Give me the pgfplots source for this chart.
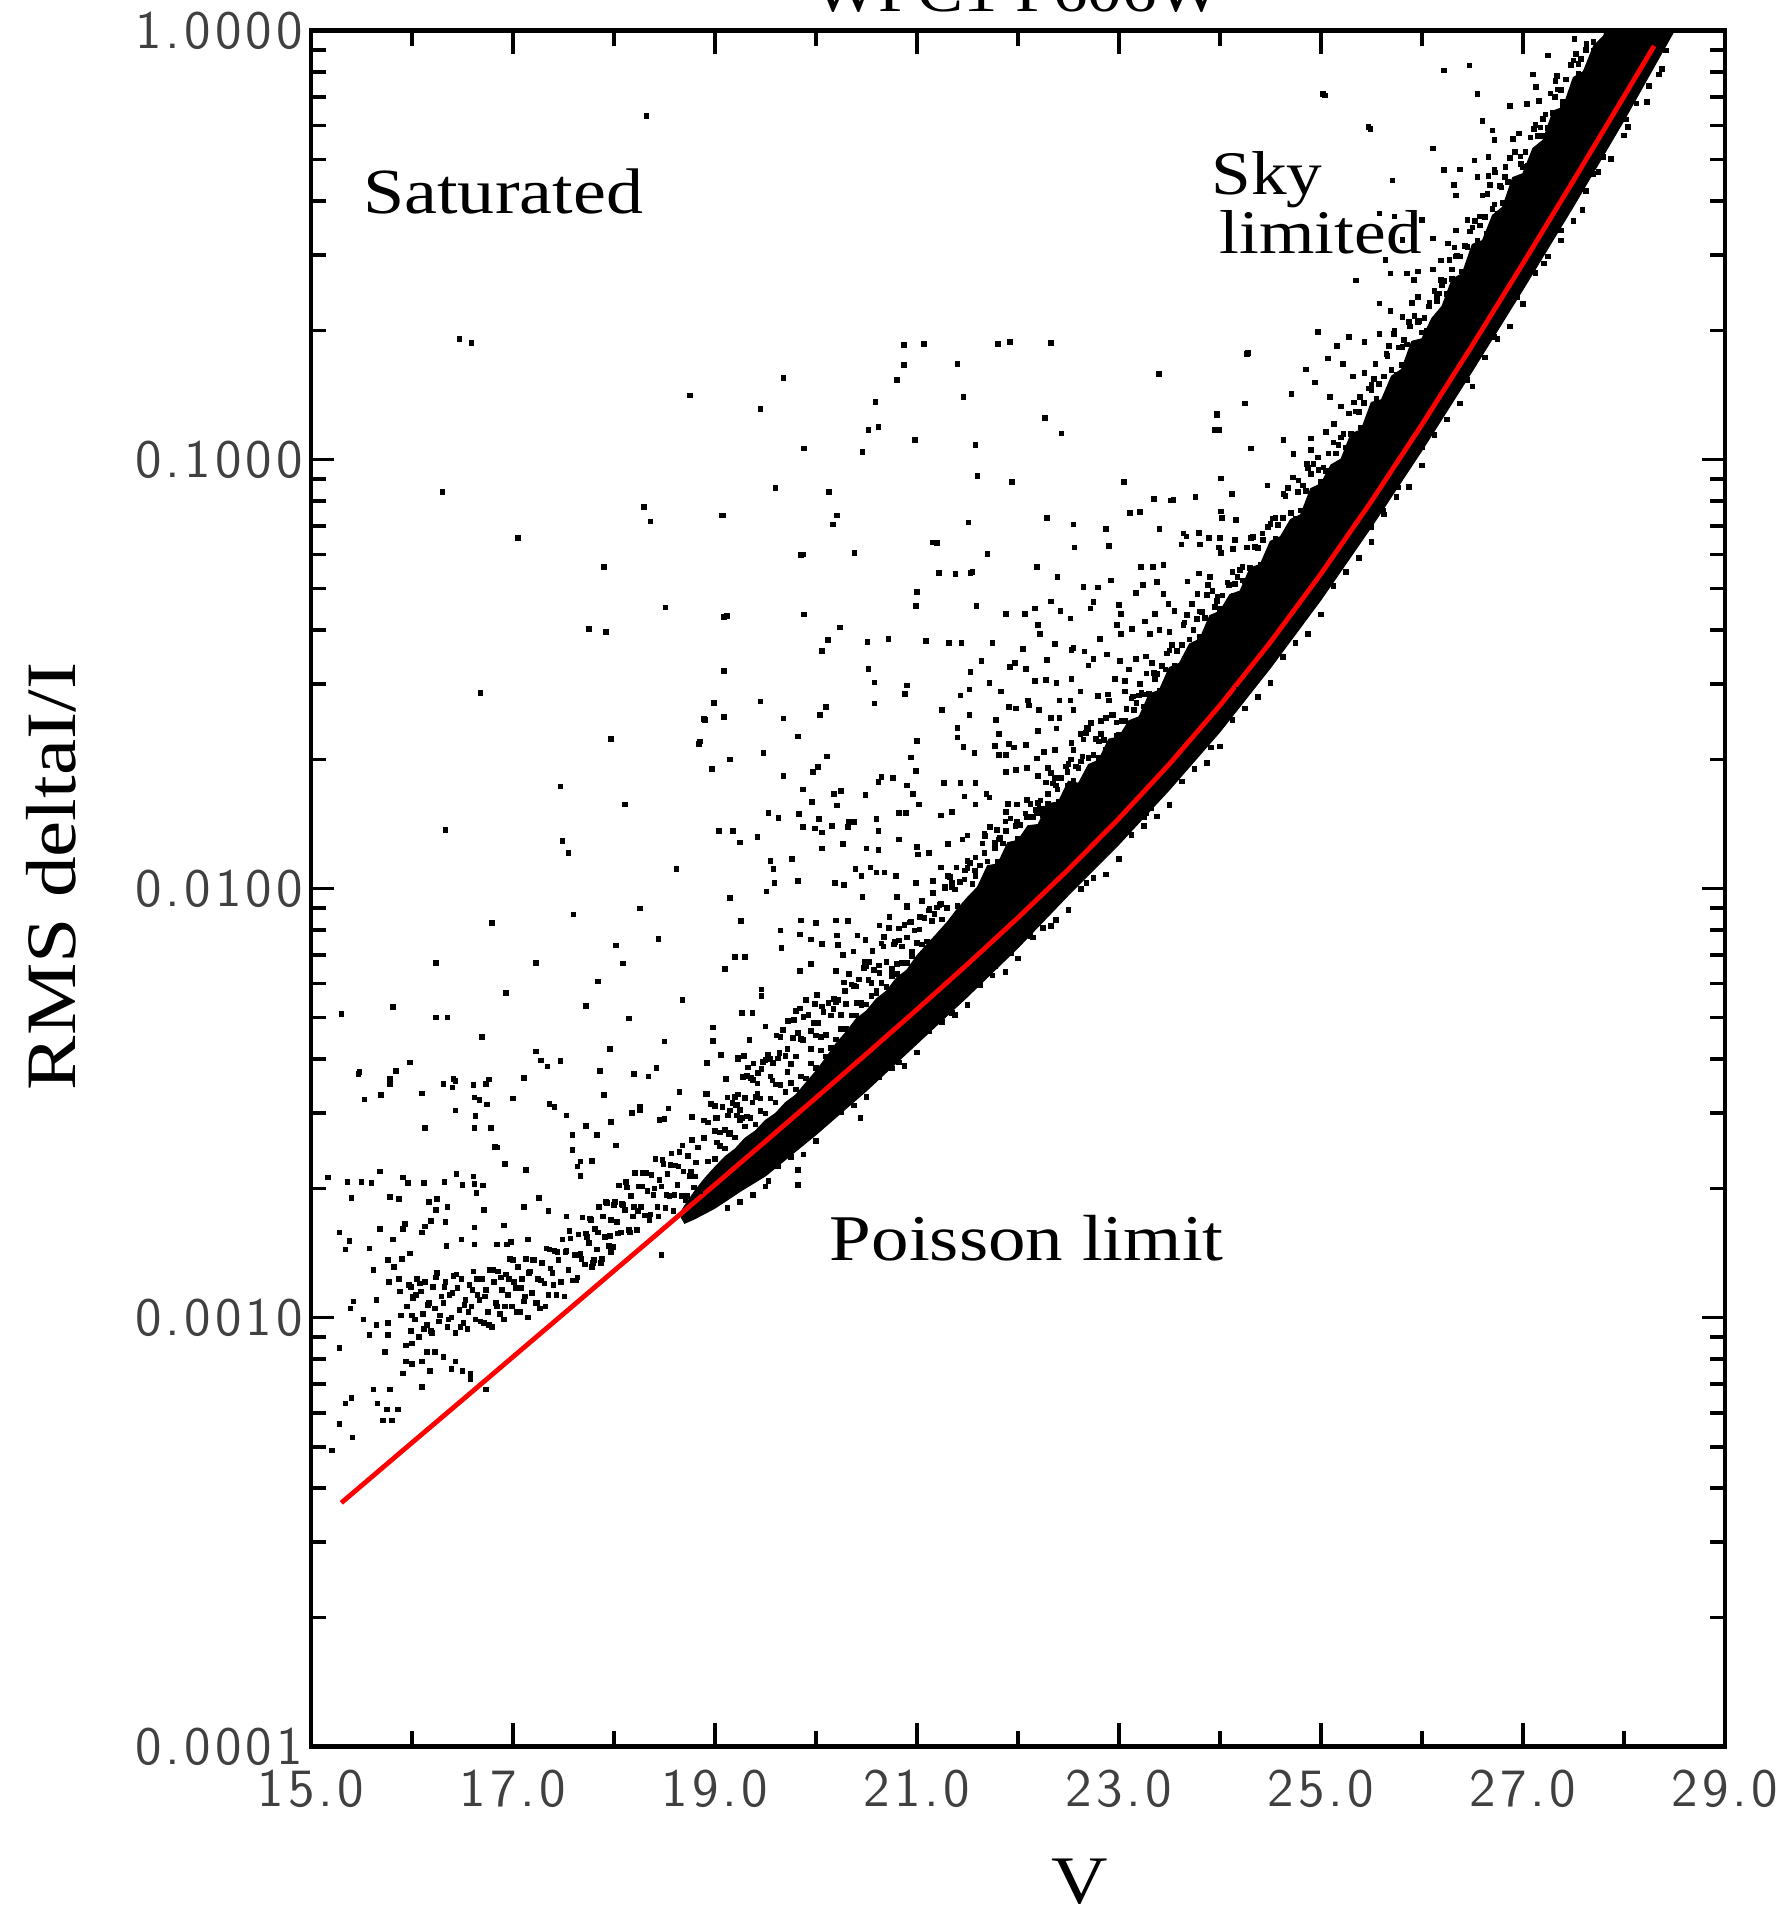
\documentclass[border=0pt]{standalone}
\usepackage{fontspec}
\setmainfont{Liberation Serif}[FakeStretch=1.15]
\usepackage{pgfplots}
\pgfplotsset{compat=1.18}
\newcommand\ks{\kern1pt}
\begin{document}
\begin{tikzpicture}
\begin{axis}[
  name=ax, at={(0,0)}, anchor=south west,
  scale only axis, width=353.4pt, height=429pt,
  xmin=15, xmax=29, ymode=log, ymin=1e-4, ymax=1,
  xtick={15,17,19,21,23,25,27,29},
  xticklabels={1\ks5\ks.\ks0,1\ks7\ks.\ks0,1\ks9\ks.\ks0,2\ks1\ks.\ks0,2\ks3\ks.\ks0,2\ks5\ks.\ks0,2\ks7\ks.\ks0,2\ks9\ks.\ks0},
  minor xtick={16,18,20,22,24,26,28},
  ytick={1e-4,1e-3,1e-2,1e-1,1},
  yticklabels={0\ks.\ks0\ks0\ks0\ks1,0\ks.\ks0\ks0\ks1\ks0,0\ks.\ks0\ks1\ks0\ks0,0\ks.\ks1\ks0\ks0\ks0,1\ks.\ks0\ks0\ks0\ks0},
  minor ytick={2e-4,3e-4,4e-4,5e-4,6e-4,7e-4,8e-4,9e-4,2e-3,3e-3,4e-3,5e-3,6e-3,7e-3,8e-3,9e-3,2e-2,3e-2,4e-2,5e-2,6e-2,7e-2,8e-2,9e-2,0.2,0.3,0.4,0.5,0.6,0.7,0.8,0.9},
  tick align=inside,
  major tick length=5.8pt, minor tick length=3.8pt,
  axis line style={line width=1.1pt},
  every tick/.style={black, line width=0.9pt},
  tick label style={font=\sffamily\fontsize{13.5}{14}\selectfont, text=black!75},
  xticklabel style={yshift=-2.2pt},
  yticklabel style={xshift=1.4pt},
  xlabel={V}, ylabel={RMS deltaI/I},
  xlabel style={font=\fontsize{17}{17}\selectfont, inner sep=0pt, at={(axis description cs:0.5436,-0.0785)}, anchor=center},
  ylabel style={font=\fontsize{17.7}{17.7}\selectfont, at={(axis description cs:-0.184,0.507)}, anchor=center},
]
% dense main band
\addplot[fill=black, draw=black, line width=0.3pt] coordinates {
(18.7,1.82e-3)(18.8,1.97e-3)(18.9,2.11e-3)(19.0,2.24e-3)(19.1,2.37e-3)(19.2,2.47e-3)(19.3,2.62e-3)(19.4,2.72e-3)(19.5,2.88e-3)(19.6,2.99e-3)(19.7,3.17e-3)(19.8,3.30e-3)(19.9,3.52e-3)
(20.0,3.75e-3)(20.1,4.03e-3)(20.2,4.35e-3)(20.3,4.63e-3)(20.4,4.97e-3)(20.5,5.18e-3)(20.6,5.53e-3)(20.7,5.77e-3)(20.8,6.19e-3)(20.9,6.45e-3)
(21.0,6.97e-3)(21.1,7.40e-3)(21.2,7.85e-3)(21.3,8.34e-3)(21.4,8.95e-3)(21.5,9.52e-3)(21.6,1.007e-2)(21.7,1.130e-2)(21.8,1.140e-2)(21.9,1.279e-2)
(22.0,1.294e-2)(22.1,1.400e-2)(22.2,1.409e-2)(22.3,1.578e-2)(22.4,1.589e-2)(22.5,1.778e-2)(22.6,1.758e-2)(22.7,1.945e-2)(22.8,1.991e-2)(22.9,2.228e-2)
(23.0,2.254e-2)(23.1,2.460e-2)(23.2,2.512e-2)(23.3,2.838e-2)(23.4,2.897e-2)(23.5,3.273e-2)(23.6,3.350e-2)(23.7,3.715e-2)(23.8,3.811e-2)(23.9,4.325e-2)
(24.0,4.426e-2)(24.1,4.842e-2)(24.2,4.932e-2)(24.3,5.585e-2)(24.4,5.689e-2)(24.5,6.442e-2)(24.6,6.607e-2)(24.7,7.244e-2)(24.8,7.430e-2)(24.9,8.551e-2)
(25.0,8.770e-2)(25.1,9.705e-2)(25.2,0.1002)(25.3,0.1148)(25.4,0.1172)(25.5,0.1358)(25.6,0.1377)(25.7,0.1563)(25.8,0.1622)(25.9,0.1884)
(26.0,0.1910)(26.1,0.2133)(26.2,0.2275)(26.3,0.2630)(26.4,0.2710)(26.5,0.3170)(26.6,0.3236)(26.7,0.3707)(26.8,0.3873)(26.9,0.4539)
(27.0,0.4634)(27.1,0.5309)(27.2,0.5546)(27.3,0.6486)(27.4,0.6622)(27.5,0.7762)(27.6,0.8017)(27.7,0.9183)(27.8,0.9705)(27.85,1.05)
(28.6,1.05)(28.5,1.0)(28.0,0.617)(27.5,0.389)(27.0,0.249)(26.5,0.161)(26.0,0.105)(25.5,0.0697)(25.0,0.0471)(24.5,0.0327)(24.0,0.0232)(23.5,0.0170)(23.0,0.01268)(22.5,0.00966)(22.0,7.28e-3)(21.5,5.60e-3)(21.0,4.35e-3)(20.5,3.38e-3)(20.0,2.67e-3)(19.5,2.14e-3)(19.25,1.97e-3)(19.0,1.80e-3)(18.8,1.70e-3)(18.7,1.66e-3)(18.65,1.74e-3)(18.7,1.82e-3)
};
% bright cluster core
\addplot[only marks, mark=square*, mark size=0.5pt, black] coordinates {
(15.95,1.06e-3)(15.97,1.19e-3)(15.99,0.93e-3)(16.01,1.11e-3)(16.03,0.99e-3)(16.05,1.23e-3)(16.07,0.90e-3)(16.09,1.15e-3)(16.11,1.02e-3)(16.13,1.21e-3)(16.15,0.96e-3)(16.17,1.08e-3)(16.19,0.93e-3)(16.21,1.18e-3)(16.23,1.05e-3)(16.25,1.27e-3)(16.27,0.98e-3)(16.29,1.12e-3)
(16.31,1.08e-3)(16.33,1.21e-3)(16.35,0.95e-3)(16.37,1.13e-3)(16.39,1.00e-3)(16.41,1.25e-3)(16.43,0.92e-3)(16.45,1.17e-3)(16.47,1.04e-3)(16.49,1.23e-3)(16.51,0.97e-3)(16.53,1.10e-3)(16.55,0.94e-3)(16.57,1.19e-3)(16.59,1.06e-3)(16.61,1.28e-3)(16.63,0.99e-3)(16.65,1.13e-3)
(16.67,1.10e-3)(16.69,1.23e-3)(16.71,0.97e-3)(16.73,1.16e-3)(16.75,1.03e-3)(16.77,1.29e-3)(16.79,0.95e-3)(16.81,1.21e-3)(16.83,1.08e-3)(16.85,1.28e-3)(16.87,1.02e-3)(16.89,1.16e-3)(16.91,0.99e-3)(16.93,1.26e-3)(16.95,1.13e-3)(16.97,1.37e-3)
(16.99,1.06e-3)(17.01,1.21e-3)(17.03,1.17e-3)(17.05,1.31e-3)(17.07,1.03e-3)(17.09,1.23e-3)(17.11,1.09e-3)(17.13,1.37e-3)(17.15,1.00e-3)(17.17,1.28e-3)(17.19,1.14e-3)(17.21,1.36e-3)(17.23,1.08e-3)(17.25,1.23e-3)(17.27,1.05e-3)(17.29,1.34e-3)
(17.31,1.20e-3)(17.33,1.45e-3)(17.35,1.13e-3)(17.37,1.30e-3)(17.39,1.27e-3)(17.41,1.43e-3)(17.43,1.13e-3)(17.45,1.36e-3)(17.47,1.21e-3)(17.49,1.52e-3)(17.51,1.12e-3)(17.53,1.43e-3)(17.55,1.29e-3)(17.57,1.53e-3)(17.59,1.22e-3)(17.61,1.40e-3)(17.63,1.22e-3)
(17.65,1.56e-3)(17.67,1.41e-3)(17.69,1.71e-3)(17.71,1.33e-3)(17.73,1.54e-3)(17.75,1.49e-3)(17.77,1.69e-3)(17.79,1.34e-3)(17.81,1.61e-3)(17.83,1.44e-3)(17.85,1.81e-3)(17.87,1.34e-3)(17.89,1.72e-3)(17.91,1.54e-3)(17.93,1.85e-3)(17.95,1.47e-3)
(17.97,1.69e-3)(17.99,1.46e-3)(18.01,1.86e-3)(18.03,1.67e-3)(18.05,2.03e-3)(18.07,1.58e-3)(18.09,1.83e-3)(18.11,1.78e-3)(18.13,2.01e-3)(18.15,1.60e-3)(18.17,1.92e-3)(18.19,1.72e-3)(18.21,2.17e-3)(18.23,1.60e-3)(18.25,2.02e-3)(18.27,1.81e-3)(18.29,2.17e-3)
(18.31,1.73e-3)(18.33,1.97e-3)(18.35,1.69e-3)(18.37,2.15e-3)(18.39,1.93e-3)(18.41,2.34e-3)(18.43,1.81e-3)(18.45,2.09e-3)(18.47,2.02e-3)(18.49,2.28e-3)(18.51,1.80e-3)(18.53,2.16e-3)(18.55,1.92e-3)(18.57,2.41e-3)(18.59,1.77e-3)(18.61,2.26e-3)(18.63,2.04e-3)(18.65,2.43e-3)(18.67,1.92e-3)(18.69,2.19e-3)(18.71,1.88e-3)(18.73,2.38e-3)(18.75,2.14e-3)(18.77,2.59e-3)(18.79,2.01e-3)(18.81,2.30e-3)(18.83,2.49e-3)(18.85,1.97e-3)
(16.00,1.01e-3)(16.04,1.13e-3)(16.08,1.20e-3)(16.12,0.94e-3)(16.16,1.07e-3)(16.20,0.92e-3)(16.24,1.24e-3)(16.28,1.01e-3)(16.32,1.18e-3)(16.36,0.99e-3)(16.40,1.14e-3)(16.44,1.26e-3)(16.48,0.95e-3)(16.52,1.07e-3)(16.56,1.03e-3)(16.60,1.16e-3)(16.64,1.23e-3)
(16.68,0.98e-3)(16.72,1.12e-3)(16.76,0.96e-3)(16.80,1.29e-3)(16.84,1.06e-3)(16.88,1.24e-3)(16.92,1.06e-3)(16.96,1.23e-3)(17.00,1.36e-3)(17.04,1.03e-3)(17.08,1.17e-3)(17.12,1.12e-3)(17.16,1.27e-3)(17.20,1.36e-3)(17.24,1.08e-3)(17.28,1.22e-3)
(17.32,1.06e-3)(17.36,1.44e-3)(17.40,1.19e-3)(17.44,1.42e-3)(17.48,1.21e-3)(17.52,1.42e-3)(17.56,1.59e-3)(17.60,1.22e-3)(17.64,1.40e-3)(17.68,1.37e-3)(17.72,1.57e-3)(17.76,1.70e-3)(17.80,1.36e-3)(17.84,1.58e-3)(17.88,1.37e-3)(17.92,1.86e-3)(17.96,1.55e-3)
(18.00,1.83e-3)(18.04,1.57e-3)(18.08,1.84e-3)(18.12,2.07e-3)(18.16,1.58e-3)(18.20,1.81e-3)(18.24,1.77e-3)(18.28,2.02e-3)(18.32,2.17e-3)(18.36,1.74e-3)(18.40,2.00e-3)(18.44,1.72e-3)(18.48,2.33e-3)(18.52,1.93e-3)(18.56,2.27e-3)(18.60,1.93e-3)(18.64,2.25e-3)(18.68,2.52e-3)(18.72,1.92e-3)(18.76,2.19e-3)(18.80,2.13e-3)
};
% bright loose points
\addplot[only marks, mark=square*, mark size=0.5pt, black] coordinates {
(15.48,3.73e-3)(15.84,3.76e-3)(15.98,3.93e-3)(15.53,3.22e-3)(15.78,3.50e-3)(16.10,3.33e-3)(16.31,3.50e-3)(16.40,3.44e-3)(16.43,3.56e-3)(16.61,3.48e-3)(16.62,3.26e-3)(16.67,3.21e-3)(16.74,3.14e-3)(16.76,3.59e-3)(16.43,3.04e-3)(16.63,2.95e-3)(16.62,2.77e-3)(16.78,2.77e-3)(16.13,2.77e-3)(16.84,2.49e-3)(16.92,2.28e-3)(17.0,3.24e-3)(17.28,3.97e-3)(17.34,3.85e-3)(17.36,3.15e-3)(17.53,2.96e-3)(17.59,2.66e-3)(17.59,2.46e-3)(17.64,2.25e-3)(17.67,2.31e-3)(17.67,2.14e-3)(17.78,2.32e-3)(17.83,2.66e-3)(17.86,3.76e-3)(17.90,3.30e-3)(17.97,2.86e-3)(18.02,2.52e-3)(18.18,3.0e-3)(18.26,3.04e-3)(18.34,3.65e-3)(18.42,3.82e-3)(18.65,3.36e-3)(18.54,3.07e-3)(18.45,2.89e-3)(18.5,2.9e-3)(18.77,2.93e-3)(18.89,2.88e-3)(18.92,3.92e-3)(18.92,3.32e-3)(19.11,3.60e-3)(19.23,4.0e-3)(19.29,4.07e-3)(19.36,3.62e-3)(19.42,3.51e-3)(19.37,3.17e-3)(19.21,3.12e-3)(18.96,3.15e-3)(19.01,2.92e-3)(19.13,2.96e-3)(19.22,2.96e-3)(19.32,2.94e-3)
(15.17,2.12e-3)(15.36,2.07e-3)(15.5,2.07e-3)(15.6,2.06e-3)(15.68,2.19e-3)(15.4,1.90e-3)(15.78,1.91e-3)(15.87,1.89e-3)(15.91,2.12e-3)(15.96,2.06e-3)(16.12,2.06e-3)(16.17,1.86e-3)(16.25,1.89e-3)(16.32,2.07e-3)(16.44,2.16e-3)(16.5,2.04e-3)(16.61,2.13e-3)(16.62,2.05e-3)(16.7,2.03e-3)(16.64,1.95e-3)(16.35,1.81e-3)(16.24,1.78e-3)(16.19,1.68e-3)(16.13,1.63e-3)(16.1,1.58e-3)(16.33,1.67e-3)(15.93,1.65e-3)(15.91,1.61e-3)(15.68,1.61e-3)(15.81,1.52e-3)(15.58,1.45e-3)(15.34,1.44e-3)(15.38,1.51e-3)(15.28,1.58e-3)(15.98,1.41e-3)(15.9,1.37e-3)(15.76,1.36e-3)(15.82,1.31e-3)(15.62,1.29e-3)(15.87,1.23e-3)(15.77,1.21e-3)(15.88,1.15e-3)(15.99,1.18e-3)(16.01,1.12e-3)(15.65,1.10e-3)(15.42,1.09e-3)(15.39,1.05e-3)(15.52,0.99e-3)(15.89,1.01e-3)(15.65,0.96e-3)(15.58,0.91e-3)(15.76,0.97e-3)(15.76,0.91e-3)(15.28,0.85e-3)(15.73,0.83e-3)(15.94,0.86e-3)(16.0,0.87e-3)(15.94,0.79e-3)(16.0,0.78e-3)(16.1,0.79e-3)(15.91,0.74e-3)(16.18,0.75e-3)(16.15,0.83e-3)(16.23,0.83e-3)(16.31,0.81e-3)(16.39,0.76e-3)(16.43,0.79e-3)(16.5,0.75e-3)(16.58,0.74e-3)(16.58,0.72e-3)(16.73,0.68e-3)(16.1,0.69e-3)(15.62,0.68e-3)(15.78,0.68e-3)(15.4,0.65e-3)(15.34,0.63e-3)(15.66,0.63e-3)(15.75,0.61e-3)(15.86,0.61e-3)(15.71,0.575e-3)(15.8,0.575e-3)(15.28,0.565e-3)(15.41,0.525e-3)(15.21,0.49e-3)
(16.34,1.47e-3)(16.49,1.52e-3)(16.62,1.48e-3)(16.71,1.78e-3)(16.62,1.62e-3)(16.91,1.64e-3)(16.84,1.48e-3)(16.94,1.48e-3)(16.98,1.5e-3)(17.11,1.81e-3)(17.26,1.9e-3)(17.13,2.21e-3)(17.35,1.77e-3)(17.15,1.52e-3)(17.53,1.72e-3)(17.64,1.24e-3)(17.78,1.31e-3)(17.97,1.42e-3)(18.47,1.40e-3)
};
% outliers above
\addplot[only marks, mark=square*, mark size=0.5pt, black] coordinates {
(18.32,0.632)(16.47,0.191)(16.59,0.187)(25.02,0.711)(25.47,0.596)(18.75,0.141)(19.68,0.155)(19.45,0.131)(19.88,0.106)(19.6,0.0859)(20.13,0.0841)(20.52,0.117)(20.59,0.136)(20.8,0.153)(20.87,0.166)(21.07,0.186)(20.87,0.185)(21.4,0.167)(21.46,0.140)(21.8,0.186)(21.92,0.188)(22.33,0.187)(22.27,0.125)(22.43,0.115)(23.39,0.158)(24.27,0.176)(23.97,0.127)(23.95,0.117)(20.46,0.104)(20.62,0.119)(20.98,0.111)(21.6,0.0916)(21.58,0.108)(16.3,0.0840)(18.3,0.0776)(18.36,0.0717)(17.05,0.0657)(19.08,0.0741)(19.85,0.0599)(20.17,0.0706)(21.16,0.0641)(21.22,0.0543)(21.53,0.0543)(21.94,0.0886)(22.55,0.0706)(23.05,0.0886)(23.21,0.0755)(23.54,0.0805)(23.67,0.0662)(23.79,0.0674)(17.9,0.0561)(17.75,0.0402)(17.92,0.0396)(18.51,0.0452)(19.12,0.0432)(17.97,0.0223)(18.9,0.0247)(18.84,0.0217)(16.68,0.0286)(18.11,0.0157)(17.47,0.0173)(17.49,0.0129)(17.55,0.0121)(16.33,0.0137)(17.6,0.0087)(16.79,0.0083)(18.62,0.0111)(16.24,0.0067)(16.24,0.0050)(16.35,0.0050)(15.81,0.0053)(15.3,0.0051)(15.47,0.0037)(15.78,0.0036)(15.69,0.0033)(16.41,0.0036)(16.73,0.0035)(16.82,0.0025)
(18.09,0.00668)(18.44,0.00762)(18.26,0.00898)(18.02,0.00737)(17.84,0.00607)(18.15,0.00498)(17.72,0.00532)(17.96,0.00423)(17.47,0.00396)(17.11,0.00362)(17.23,0.00417)(18.2,0.0037)(18.5,0.0044)(18.68,0.0055)(17.23,0.0067)(16.93,0.0057)(16.69,0.0045)(17.41,0.0031)(17.72,0.0028)(18.26,0.0031)
};
% scattered cloud V 19-24.7
\addplot[only marks, mark=square*, mark size=0.5pt, black] coordinates {
(19.07,0.0741)(20.21,0.0741)(21.51,0.0713)(22.29,0.0731)(23.11,0.0750)(24.01,0.0757)(24.02,0.0731)(24.16,0.0722)(22.87,0.0688)(23.40,0.0688)(23.64,0.0672)(23.79,0.0672)(23.89,0.0656)(24.0,0.0656)(24.15,0.0648)(24.31,0.0656)(24.42,0.0672)(24.55,0.0731)(24.71,0.0750)
(19.87,0.0600)(20.38,0.0605)(21.2,0.0638)(21.7,0.0603)(22.56,0.0624)(22.9,0.0628)(23.62,0.0633)(23.8,0.0633)(23.99,0.0624)(24.01,0.0606)(24.13,0.0619)(24.27,0.0624)
(21.38,0.0541)(21.55,0.0546)(22.19,0.0561)(22.39,0.0533)(22.65,0.0504)(22.79,0.0503)(22.92,0.0522)(23.22,0.0561)(23.34,0.0561)(23.44,0.0568)(23.24,0.0510)(23.38,0.0518)(23.68,0.0519)(23.79,0.0542)(23.88,0.0510)(24.09,0.0510)(24.23,0.0522)(24.40,0.0554)
(21.0,0.0491)(20.99,0.0455)(21.59,0.0455)(23.17,0.0488)(23.44,0.0486)(23.49,0.0461)(23.78,0.0486)(23.97,0.0468)(24.14,0.0481)(24.33,0.0529)
(19.09,0.0430)(19.88,0.0435)(20.24,0.0406)(21.88,0.0436)(22.07,0.0437)(22.17,0.0449)(22.33,0.0467)(22.42,0.0444)(22.52,0.0426)(22.75,0.0466)(22.72,0.0449)(23.0,0.0458)(23.02,0.0437)(23.26,0.0419)(23.36,0.0437)(23.55,0.0444)(23.8,0.0442)(23.95,0.0453)
(20.12,0.0380)(20.06,0.0358)(20.51,0.0375)(20.72,0.0381)(21.09,0.0377)(21.32,0.0373)(21.44,0.0374)(21.75,0.0373)(22.2,0.0411)(22.22,0.0392)(22.37,0.0372)(22.55,0.0364)(22.66,0.0357)(22.81,0.0381)(22.98,0.0411)(23.02,0.0392)(23.13,0.0403)(23.31,0.0392)(23.40,0.0401)(23.50,0.0396)(23.64,0.0411)(23.74,0.0401)
(19.09,0.0321)(20.52,0.0325)(20.58,0.0302)(20.9,0.0297)(20.88,0.0284)(21.53,0.0320)(21.64,0.0339)(21.97,0.0335)(21.92,0.0328)(22.05,0.0362)(22.08,0.0325)(22.29,0.0341)(22.53,0.0360)(22.70,0.0331)(22.75,0.0343)(22.88,0.0351)(23.01,0.0339)(23.17,0.0343)(23.27,0.0347)(23.1,0.0324)(22.96,0.0308)(23.06,0.0305)(23.21,0.0300)(23.36,0.0308)(23.46,0.0324)(23.57,0.0328)
(18.99,0.0271)(19.45,0.0273)(20.58,0.0270)(21.43,0.0282)(21.52,0.0291)(21.72,0.0301)(21.83,0.0288)(22.17,0.0305)(22.28,0.0306)(22.38,0.0301)(22.53,0.0308)(22.41,0.0274)(22.52,0.0274)(22.62,0.0288)(22.79,0.0281)(22.89,0.0283)(23.06,0.0288)(23.14,0.0280)(23.25,0.0283)(23.33,0.0278)(23.40,0.0274)
(18.89,0.0248)(19.09,0.0251)(19.68,0.0249)(20.10,0.0265)(20.04,0.0254)(21.25,0.0261)(21.52,0.0254)(21.78,0.0247)(21.91,0.0265)(21.98,0.0263)(22.1,0.0274)(22.11,0.0267)(22.21,0.0261)(22.33,0.0250)(22.41,0.0250)(22.55,0.0261)(22.68,0.0237)(22.82,0.0246)(22.94,0.0254)(23.06,0.0246)(23.17,0.0243)(23.27,0.0250)
(18.85,0.0220)(19.82,0.0226)(21.0,0.0221)(21.4,0.0237)(21.4,0.0225)(21.81,0.0229)(21.91,0.0217)(22.08,0.0216)(22.2,0.0233)(22.38,0.0236)(22.53,0.0218)(22.62,0.0229)(22.70,0.0235)(22.80,0.0220)(22.87,0.0210)(22.98,0.0227)(23.13,0.0232)
(18.97,0.0190)(19.15,0.0200)(19.48,0.0207)(20.11,0.0203)(20.94,0.0202)(20.99,0.0188)(21.46,0.0214)(21.57,0.0207)(21.77,0.0215)(21.81,0.0205)(21.88,0.0205)(21.96,0.0213)(22.19,0.0201)(22.26,0.0208)(22.37,0.0210)(22.55,0.0210)(22.64,0.0203)(22.75,0.0205)(22.87,0.0196)(22.99,0.0205)
(19.68,0.0183)(19.97,0.0187)(20.02,0.0192)(20.62,0.0177)(20.65,0.0182)(20.76,0.0181)(20.9,0.0174)(20.96,0.0166)(21.02,0.0157)(21.27,0.0176)(21.43,0.0176)(21.47,0.0164)(21.58,0.0176)(21.69,0.0166)(21.88,0.0187)(21.98,0.0189)(22.09,0.0191)(22.2,0.0183)(22.3,0.0191)(22.37,0.0181)(22.49,0.0187)(22.6,0.0191)(22.72,0.0183)
(19.87,0.0170)(19.96,0.0159)(20.18,0.0166)(20.25,0.0169)(20.21,0.0156)(20.49,0.0165)(19.53,0.0150)(19.63,0.0146)(19.83,0.0149)(20.03,0.0145)(20.16,0.0140)(20.33,0.0143)(20.6,0.0145)(20.82,0.0150)(20.89,0.0150)(21.24,0.0148)(21.35,0.0151)(21.58,0.0157)(21.72,0.0163)(21.88,0.0151)(21.99,0.0157)(22.09,0.0161)(22.22,0.0153)(22.3,0.0166)(22.39,0.0170)(22.49,0.0174)(22.6,0.0170)
(19.04,0.0136)(19.18,0.0136)(19.42,0.0132)(19.25,0.0128)(19.87,0.0139)(19.99,0.0138)(20.06,0.0135)(20.27,0.0127)(20.32,0.0139)(20.38,0.0143)(20.50,0.0124)(20.62,0.0136)(20.62,0.0123)(20.82,0.0130)(21.0,0.0125)(21.01,0.0120)(21.12,0.0121)(21.31,0.0127)(21.45,0.0130)(21.5,0.0133)(21.67,0.0134)(21.79,0.0137)(21.88,0.0136)(21.99,0.0143)(22.09,0.0147)(22.19,0.0150)(22.26,0.0153)
(19.55,0.0116)(19.58,0.0111)(19.76,0.0117)(19.82,0.0104)(20.06,0.0124)(20.19,0.0103)(20.28,0.0102)(20.39,0.0111)(20.45,0.0107)(20.54,0.0112)(20.6,0.0109)(20.68,0.0109)(20.79,0.0107)(20.99,0.0103)(21.16,0.0104)(21.24,0.0112)(21.31,0.0107)(21.39,0.0112)(21.5,0.0116)(21.58,0.0118)(21.67,0.0121)(21.77,0.0124)(21.81,0.0130)
(19.51,0.00984)(19.59,0.0103)(19.15,0.00951)(19.26,0.00841)(19.85,0.00843)(20.0,0.00832)(20.2,0.00843)(20.32,0.00841)(20.46,0.00954)(20.8,0.00954)(20.9,0.00909)(21.05,0.00935)(21.16,0.00976)(21.28,0.0100)(21.35,0.0103)(21.47,0.0105)(21.58,0.0107)
(19.65,0.00799)(19.66,0.00727)(19.84,0.00782)(19.95,0.00760)(20.06,0.00742)(20.21,0.00778)(20.22,0.00739)(20.41,0.00778)(20.49,0.00758)(20.63,0.00820)(20.73,0.00857)(20.82,0.00807)(20.94,0.00836)(21.03,0.00857)(21.12,0.00888)(21.24,0.00920)
(19.1,0.00650)(19.2,0.00693)(19.3,0.00693)(19.84,0.00642)(19.95,0.00666)(20.2,0.00642)(20.27,0.00699)(20.37,0.00713)(20.48,0.00674)(20.56,0.00716)(20.67,0.00733)(20.78,0.00751)(20.9,0.00769)
(19.46,0.00581)(19.46,0.00562)(20.01,0.00565)(19.99,0.00538)(19.8,0.00519)(19.84,0.00525)(20.06,0.00531)(20.18,0.00552)(20.29,0.00577)(20.4,0.00591)(20.52,0.00613)(20.63,0.00636)(20.75,0.00650)
(19.27,0.00512)(19.37,0.00512)(19.5,0.00477)(18.98,0.00474)(18.98,0.00441)(19.34,0.00443)(19.78,0.00494)(19.61,0.00454)(19.72,0.00423)(19.87,0.00443)(19.95,0.00465)
(19.06,0.00409)(19.23,0.00403)(19.38,0.00391)(19.55,0.00401)(19.64,0.00413)(19.46,0.00380)(19.57,0.00357)(19.72,0.00374)(19.11,0.00361)(19.32,0.00366)
(18.91,0.00332)(19.0,0.00311)(19.22,0.00314)(18.93,0.00285)(19.27,0.00292)(19.42,0.00332)(18.89,0.00262)(19.02,0.00256)(19.14,0.00268)(18.93,0.00231)
(20.44,0.00292)(19.82,0.00221)(19.82,0.00204)(19.53,0.00208)(20.82,0.00393)(21.12,0.00465)(21.35,0.00512)(21.77,0.00658)(21.93,0.00708)(22.15,0.00769)(22.33,0.00817)(22.52,0.0100)(22.68,0.0103)(23.27,0.0150)(23.25,0.0147)(23.32,0.0154)(23.91,0.0213)(24.0,0.0249)(24.19,0.0291)(24.38,0.0318)
};
% faint end scatter
\addplot[only marks, mark=square*, mark size=0.5pt, black] coordinates {
(26.22,0.806)(26.47,0.828)(26.55,0.711)(27.1,0.79)(27.25,0.874)(27.51,0.956)(27.63,0.93)(27.70,0.897)(27.78,0.93)(27.85,0.947)(27.13,0.737)(27.34,0.783)(27.55,0.836)(27.70,0.79)(27.74,0.751)(27.82,0.718)(26.87,0.667)(27.04,0.674)(27.16,0.684)(27.32,0.699)(27.40,0.681)(27.48,0.663)(27.59,0.699)(27.67,0.674)
(26.6,0.614)(26.70,0.585)(26.72,0.556)(26.96,0.575)(27.11,0.59)(27.2,0.567)(27.29,0.60)(27.36,0.585)(27.44,0.605)(26.11,0.53)(26.52,0.497)(26.66,0.507)(26.22,0.472)(26.38,0.474)(26.55,0.456)(26.66,0.458)(26.72,0.472)(26.83,0.481)(26.98,0.489)(27.1,0.497)(27.23,0.526)(27.32,0.545)
(26.32,0.436)(26.34,0.412)(26.6,0.412)(26.72,0.393)(26.79,0.430)(26.91,0.438)(27.02,0.447)(27.1,0.409)(27.17,0.423)(25.58,0.374)(25.73,0.368)(26.0,0.361)(26.11,0.327)(26.34,0.342)(26.45,0.362)(26.57,0.368)(26.64,0.336)(26.72,0.342)(26.26,0.319)(25.81,0.325)(25.64,0.292)(26.19,0.291)(26.34,0.297)(26.45,0.313)(26.53,0.307)
(25.35,0.261)(25.69,0.271)(25.85,0.271)(25.96,0.274)(25.92,0.262)(26.11,0.277)(26.19,0.262)(26.30,0.277)(25.58,0.231)(25.69,0.222)(25.81,0.215)(25.96,0.209)(26.07,0.227)(26.15,0.239)(25.96,0.239)
(24.97,0.198)(25.16,0.184)(25.28,0.193)(25.43,0.188)(25.58,0.196)(25.73,0.200)(25.88,0.204)(25.07,0.172)(25.22,0.167)(25.32,0.156)(25.43,0.159)(25.54,0.167)(25.66,0.174)(25.81,0.183)(24.85,0.162)(24.94,0.151)(25.39,0.140)(25.50,0.145)(25.58,0.150)(24.71,0.142)(25.09,0.140)(25.2,0.133)(25.28,0.128)
(24.25,0.135)(23.97,0.128)(23.99,0.117)(24.63,0.111)(24.90,0.112)(25.05,0.116)(25.13,0.121)(24.31,0.106)(24.73,0.103)(24.86,0.0977)(24.97,0.101)(24.01,0.0902)(24.12,0.0831)(23.51,0.0802)(23.76,0.0817)(23.35,0.081)(24.47,0.087)(24.63,0.0831)(24.78,0.0894)(24.90,0.0925)(25.05,0.094)
(25.04,0.705)(25.49,0.59)(25.71,0.447)(23.40,0.158)(24.28,0.177)
(28.42,0.897)(28.35,0.79)(28.23,0.681)(28.04,0.595)(28.02,0.62)(27.80,0.507)(27.70,0.463)(27.59,0.381)(27.38,0.342)(27.21,0.286)(26.94,0.239)(26.72,0.193)(26.45,0.153)(26.22,0.133)(26.0,0.107)(25.77,0.086)(25.62,0.076)(25.50,0.0695)
};
% fringe along band edges
\addplot[only marks, mark=square*, mark size=0.5pt, black] coordinates {
(19.00,2.34e-3)(19.05,2.51e-3)(19.10,2.48e-3)(19.15,2.69e-3)(19.20,2.63e-3)(19.25,2.88e-3)(19.30,2.79e-3)(19.35,2.92e-3)(19.40,2.82e-3)(19.45,3.03e-3)(19.50,2.99e-3)(19.55,3.24e-3)(19.60,3.17e-3)(19.65,3.48e-3)(19.70,3.36e-3)(19.75,3.52e-3)(19.80,3.40e-3)(19.85,3.65e-3)(19.90,3.61e-3)(19.95,3.91e-3)
(20.00,3.82e-3)(20.05,4.19e-3)(20.10,4.06e-3)(20.15,4.25e-3)(20.20,4.45e-3)(20.25,4.71e-3)(20.30,4.71e-3)(20.35,5.06e-3)(20.40,5.06e-3)(20.45,5.42e-3)(20.50,5.36e-3)(20.55,5.62e-3)(20.60,5.69e-3)(20.65,6.03e-3)(20.70,5.90e-3)(20.75,6.25e-3)(20.80,6.32e-3)(20.85,6.71e-3)(20.90,6.71e-3)(20.95,7.13e-3)
(19.05,2.70e-3)(19.15,3.04e-3)(19.25,3.05e-3)(19.35,3.61e-3)(19.45,3.24e-3)(19.55,3.65e-3)(19.65,4.51e-3)(19.75,3.90e-3)(19.85,4.46e-3)(19.95,4.23e-3)
(20.05,4.50e-3)(20.15,5.06e-3)(20.25,5.08e-3)(20.35,5.98e-3)(20.45,5.35e-3)(20.55,6.03e-3)(20.65,7.45e-3)(20.75,6.44e-3)(20.85,7.33e-3)(20.95,6.95e-3)
(21.05,7.41e-3)(21.15,8.39e-3)(21.25,8.47e-3)(21.35,1.005e-2)(21.45,9.04e-3)(21.55,1.023e-2)(21.65,1.274e-2)(21.75,1.109e-2)(21.85,1.274e-2)(21.95,1.216e-2)
(22.05,1.300e-2)(22.15,1.469e-2)(22.25,1.483e-2)(22.35,1.758e-2)(22.45,1.578e-2)(22.55,1.786e-2)(22.65,2.223e-2)(22.75,1.932e-2)(22.85,2.218e-2)(22.95,2.118e-2)
(23.05,2.275e-2)(23.15,2.606e-2)(23.25,2.655e-2)(23.35,3.177e-2)(23.45,2.891e-2)(23.55,3.311e-2)(23.65,4.169e-2)(23.75,3.673e-2)(23.85,4.276e-2)(23.95,4.130e-2)
(24.05,4.467e-2)(24.15,5.117e-2)(24.25,5.212e-2)(24.35,6.252e-2)(24.45,5.689e-2)(24.55,6.516e-2)(24.65,8.222e-2)(24.75,7.261e-2)(24.85,8.453e-2)(24.95,8.185e-2)
(25.05,8.913e-2)(25.15,0.1033)(25.25,0.1067)(25.35,0.1294)(25.45,0.1191)(25.55,0.1384)(25.65,0.1762)(25.75,0.1574)(25.85,0.1854)(25.95,0.1811)
(26.05,0.1995)(26.15,0.2333)(26.25,0.2432)(26.35,0.2979)(26.45,0.2767)(26.55,0.3236)(26.65,0.4159)(26.75,0.3741)(26.85,0.4436)(26.95,0.4375)
(27.05,0.4842)(27.15,0.5675)(27.25,0.5929)(27.35,0.7278)(27.45,0.6776)(27.55,0.7925)(27.75,0.9162)
(19.0,2.72e-3)(19.1,2.74e-3)(19.2,3.27e-3)(19.3,3.25e-3)(19.4,3.27e-3)(19.5,3.99e-3)(19.6,3.49e-3)(19.7,4.07e-3)(19.8,4.06e-3)(19.9,5.50e-3)
(20.0,4.54e-3)(20.1,4.55e-3)(20.2,5.43e-3)(20.3,5.38e-3)(20.4,5.41e-3)(20.5,6.59e-3)(20.6,5.77e-3)(20.7,6.73e-3)(20.8,6.67e-3)(20.9,9.04e-3)
(21.0,7.46e-3)(21.1,7.53e-3)(21.2,9.04e-3)(21.3,9.02e-3)(21.4,9.10e-3)(21.5,1.117e-2)(21.6,9.84e-3)(21.7,1.156e-2)(21.8,1.153e-2)(21.9,1.574e-2)
(22.0,1.309e-2)(22.1,1.321e-2)(22.2,1.581e-2)(22.3,1.578e-2)(22.4,1.589e-2)(22.5,1.950e-2)(22.6,1.718e-2)(22.7,2.014e-2)(22.8,2.014e-2)(22.9,2.742e-2)
(23.0,2.280e-2)(23.1,2.323e-2)(23.2,2.818e-2)(23.3,2.838e-2)(23.4,2.897e-2)(23.5,3.589e-2)(23.6,3.199e-2)(23.7,3.802e-2)(23.8,3.855e-2)(23.9,5.321e-2)
(24.0,4.477e-2)(24.1,4.571e-2)(24.2,5.534e-2)(24.3,5.585e-2)(24.4,5.689e-2)(24.5,7.063e-2)(24.6,6.310e-2)(24.7,7.499e-2)(24.8,7.603e-2)(24.9,0.1052)
(25.0,8.872e-2)(25.1,9.162e-2)(25.2,0.1125)(25.3,0.1148)(25.4,0.1186)(25.5,0.1489)(25.6,0.1346)(25.7,0.1618)(25.8,0.1660)(25.9,0.2317)
(26.0,0.1977)(26.1,0.2061)(26.2,0.2553)(26.3,0.2630)(26.4,0.2742)(26.5,0.3475)(26.6,0.3162)(26.7,0.3837)(26.8,0.3963)(26.9,0.5585)
(27.0,0.4797)(27.1,0.5012)(27.2,0.6223)(27.3,0.6412)(27.4,0.6699)(27.5,0.8511)(27.6,0.7745)(27.7,0.9397)
(19.25,1.86e-3)(19.5,2.02e-3)(19.75,2.37e-3)(20.0,2.58e-3)(20.25,3.01e-3)(20.5,3.27e-3)(20.75,3.81e-3)(21.0,4.15e-3)(21.25,4.88e-3)(21.5,5.35e-3)(21.75,6.27e-3)(22.0,6.87e-3)(22.25,8.09e-3)(22.5,8.91e-3)(22.75,1.057e-2)(23.0,1.17e-2)(23.25,1.40e-2)(23.5,1.567e-2)(23.75,1.897e-2)(24.0,2.143e-2)(24.25,2.63e-2)(24.5,3.01e-2)(24.75,3.74e-2)(25.0,4.35e-2)(25.25,5.47e-2)(25.5,6.43e-2)(25.75,8.17e-2)(26.0,9.68e-2)(26.25,0.124)(26.5,0.148)(26.75,0.191)(27.0,0.23)(27.25,0.297)(27.5,0.359)(27.75,0.468)(28.0,0.569)(28.25,0.741)
};
% outer fringe layers
\addplot[only marks, mark=square*, mark size=0.5pt, black] coordinates {
(19.025,2.92e-3)(19.125,3.26e-3)(19.225,3.31e-3)(19.325,3.83e-3)(19.425,3.72e-3)(19.525,4.09e-3)(19.625,4.02e-3)(19.725,4.91e-3)(19.825,4.61e-3)(19.925,5.08e-3)
(20.025,4.86e-3)(20.125,5.41e-3)(20.225,5.50e-3)(20.325,6.32e-3)(20.425,6.14e-3)(20.525,6.75e-3)(20.625,6.62e-3)(20.725,8.09e-3)(20.825,7.57e-3)(20.925,8.34e-3)
(21.025,8.02e-3)(21.125,8.97e-3)(21.225,9.16e-3)(21.325,1.062e-2)(21.425,1.035e-2)(21.525,1.146e-2)(21.625,1.132e-2)(21.725,1.393e-2)(21.825,1.312e-2)(21.925,1.456e-2)
(22.025,1.406e-2)(22.125,1.574e-2)(22.225,1.603e-2)(22.325,1.858e-2)(22.425,1.807e-2)(22.525,2.000e-2)(22.625,1.977e-2)(22.725,2.427e-2)(22.825,2.291e-2)(22.925,2.535e-2)
(23.025,2.455e-2)(23.125,2.773e-2)(23.225,2.864e-2)(23.325,3.350e-2)(23.425,3.304e-2)(23.525,3.698e-2)(23.625,3.698e-2)(23.725,4.603e-2)(23.825,4.406e-2)(23.925,4.943e-2)
(24.025,4.819e-2)(24.125,5.458e-2)(24.225,5.623e-2)(24.325,6.592e-2)(24.425,6.486e-2)(24.525,7.278e-2)(24.625,7.295e-2)(24.725,9.078e-2)(24.825,8.690e-2)(24.925,9.772e-2)
(25.025,9.572e-2)(25.125,0.1096)(25.225,0.1146)(25.325,0.1358)(25.425,0.1355)(25.525,0.1538)(25.625,0.1560)(25.725,0.1963)(25.825,0.1901)(25.925,0.2158)
(26.025,0.2138)(26.125,0.2472)(26.225,0.2606)(26.325,0.3119)(26.425,0.3141)(26.525,0.3597)(26.625,0.3673)(26.725,0.4667)(26.825,0.4550)(26.925,0.5212)
(27.025,0.5200)(27.125,0.6026)(27.225,0.6368)(27.325,0.7621)(27.425,0.7691)(27.525,0.8810)(27.625,0.8995)
(19.075,3.10e-3)(19.175,3.16e-3)(19.275,3.64e-3)(19.375,3.58e-3)(19.475,3.94e-3)(19.575,3.92e-3)(19.675,4.68e-3)(19.775,4.49e-3)(19.875,5.01e-3)(19.975,4.86e-3)
(20.075,5.16e-3)(20.175,5.24e-3)(20.275,6.04e-3)(20.375,5.92e-3)(20.475,6.52e-3)(20.575,6.46e-3)(20.675,7.71e-3)(20.775,7.40e-3)(20.875,8.22e-3)(20.975,7.98e-3)
(21.075,8.53e-3)(21.175,8.71e-3)(21.275,1.009e-2)(21.375,9.95e-3)(21.475,1.102e-2)(21.575,1.102e-2)(21.675,1.324e-2)(21.775,1.276e-2)(21.875,1.432e-2)(21.975,1.400e-2)
(22.075,1.496e-2)(22.175,1.524e-2)(22.275,1.766e-2)(22.375,1.738e-2)(22.475,1.923e-2)(22.575,1.923e-2)(22.675,2.307e-2)(22.775,2.228e-2)(22.875,2.495e-2)(22.975,2.438e-2)
(23.075,2.624e-2)(23.175,2.710e-2)(23.275,3.170e-2)(23.375,3.162e-2)(23.475,3.532e-2)(23.575,3.573e-2)(23.675,4.345e-2)(23.775,4.246e-2)(23.875,4.831e-2)(23.975,4.775e-2)
(24.075,5.164e-2)(24.175,5.321e-2)(24.275,6.237e-2)(24.375,6.209e-2)(24.475,6.950e-2)(24.575,7.031e-2)(24.675,8.570e-2)(24.775,8.395e-2)(24.875,9.550e-2)(24.975,9.441e-2)
(25.075,0.1033)(25.175,0.1079)(25.275,0.1279)(25.375,0.1291)(25.475,0.1462)(25.575,0.1496)(25.675,0.1841)(25.775,0.1824)(25.875,0.2094)(25.975,0.2099)
(26.075,0.2312)(26.175,0.2438)(26.275,0.2917)(26.375,0.2972)(26.475,0.3396)(26.575,0.3508)(26.675,0.4355)(26.775,0.4345)(26.875,0.5035)(26.975,0.5082)
(27.075,0.5623)(27.175,0.5943)(27.275,0.7129)(27.375,0.7261)(27.475,0.8318)(27.575,0.8590)
(19.125,1.80e-3)(19.375,1.93e-3)(19.625,2.25e-3)(19.875,2.40e-3)(20.125,2.90e-3)(20.375,3.12e-3)(20.625,3.63e-3)(20.875,3.86e-3)(21.125,4.69e-3)(21.375,5.08e-3)(21.625,5.96e-3)(21.875,6.38e-3)(22.125,7.76e-3)(22.375,8.45e-3)(22.625,9.98e-3)(22.875,1.079e-2)(23.125,1.334e-2)(23.375,1.472e-2)(23.625,1.774e-2)(23.875,1.959e-2)(24.125,2.472e-2)(24.375,2.799e-2)(24.625,3.459e-2)(24.875,3.917e-2)(25.125,5.07e-2)(25.375,5.89e-2)(25.625,7.45e-2)(25.875,8.63e-2)(26.125,0.114)(26.375,0.135)(26.625,0.173)(26.875,0.204)(27.125,0.272)(27.375,0.324)(27.625,0.422)(27.875,0.501)(28.125,0.676)(28.375,0.813)
};
% Poisson limit curve
\addplot[red, line width=1.2pt] coordinates {
(15.3,3.70e-4)(16.0,5.11e-4)(16.5,6.43e-4)(17.0,8.10e-4)(17.5,1.020e-3)(18.0,1.285e-3)(18.5,1.619e-3)(19.0,2.041e-3)(19.5,2.575e-3)(20.0,3.253e-3)(20.5,4.116e-3)(21.0,5.224e-3)(21.5,6.66e-3)(22.0,8.548e-3)(22.5,1.108e-2)(23.0,1.456e-2)(23.5,1.950e-2)(24.0,2.670e-2)(24.5,3.751e-2)(25.0,5.41e-2)(25.5,7.99e-2)(26.0,0.1205)(26.5,0.1846)(27.0,0.2859)(27.5,0.4463)(28.0,0.7005)(28.3,0.92)
};
\node[anchor=base west, inner sep=0pt, font=\fontsize{16.1}{16.1}\selectfont] at (axis cs:15.51,0.3746) {Saturated};
\node[anchor=north west, align=left, inner sep=0pt, font=\fontsize{15.5}{14.6}\selectfont] at (axis cs:23.91,0.523) {Sky\\\hspace*{2pt}limited};
\node[anchor=base west, inner sep=0pt, font=\fontsize{16.3}{16.3}\selectfont] at (axis cs:20.13,1.36e-3) {Poisson limit};
\end{axis}
\node[anchor=base, font=\fontsize{15}{15}\selectfont] at ([yshift=4.6pt]ax.north) {WFC1 F606W};
\pgfresetboundingbox
\useasboundingbox ([xshift=-77.75pt,yshift=-41.6pt]ax.south west) rectangle ([xshift=14.3pt,yshift=7.6pt]ax.north east);
\end{tikzpicture}
\end{document}
